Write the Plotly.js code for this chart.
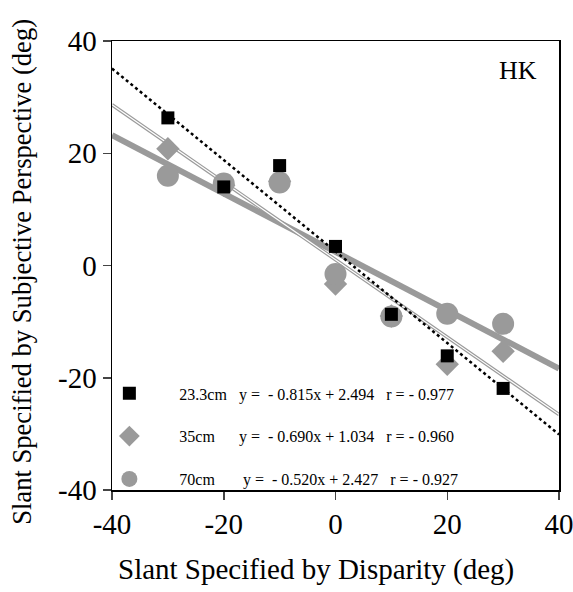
<!DOCTYPE html>
<html>
<head>
<meta charset="utf-8">
<script src="https://cdn.plot.ly/plotly-3.0.1.min.js"></script>
<style>html,body{margin:0;padding:0;background:#fff;}#chart{width:573px;height:592px;}</style>
</head>
<body>
<div id="chart"></div>
<script>
// Data
const disparity = [-30, -20, -10, 0, 10, 20, 30];
const y233 = [26.3, 14.0, 17.8, 3.4, -8.7, -16.1, -21.9];
const y35  = [20.8, 14.3, 15.0, -3.3, -9.0, -17.6, -15.3];
const y70  = [16.0, 14.6, 14.8, -1.5, -9.1, -8.6, -10.4];
const seriesNames = ['23.3cm', '35cm', '70cm'];
const slopes = [-0.815, -0.690, -0.520];
const intercepts = [2.494, 1.034, 2.427];
const rValues = ['- 0.977', '- 0.960', '- 0.927'];
const fitRange = [-40, 40];
const xTicks = [-40, -20, 0, 20, 40];
const yTicks = [-40, -20, 0, 20, 40];
const xTitle = 'Slant Specified by Disparity (deg)';
const yTitle = 'Slant Specified by Subjective Perspective (deg)';
const panelLabel = 'HK';

const NB = '\u00A0';
function pad(n){ return NB.repeat(n); }
function eqText(i){
  const m = Math.abs(slopes[i]).toFixed(3), b = intercepts[i].toFixed(3);
  return 'y =' + pad(2) + '-' + pad(1) + m + 'x + ' + b;
}
const namePads = [3, 6, 7];
const eqPads = [3, 3, 3];
function legendText(i){
  return seriesNames[i] + pad(namePads[i]) + eqText(i) + pad(eqPads[i]) + 'r = ' + rValues[i];
}
function fitLine(i){ return fitRange.map(x => slopes[i]*x + intercepts[i]); }

const gray = '#9a9a9a';
const traces = [
  // regression lines
  {x: fitRange, y: fitLine(2), mode: 'lines', line: {color: gray, width: 6}, showlegend: false, hoverinfo: 'skip'},
  {x: fitRange, y: fitLine(1), mode: 'lines', line: {color: gray, width: 3.5}, showlegend: false, hoverinfo: 'skip'},
  {x: fitRange, y: fitLine(1), mode: 'lines', line: {color: '#ffffff', width: 1.2}, showlegend: false, hoverinfo: 'skip'},
  {x: fitRange, y: fitLine(0), mode: 'lines', line: {color: '#000', width: 2.5, dash: 'dot'}, showlegend: false, hoverinfo: 'skip'},
  // markers
  {x: disparity, y: y35, mode: 'markers', name: legendText(1), legendrank: 2, legendgroup: 'b',
   marker: {symbol: 'diamond', size: 18, color: gray}},
  {x: disparity, y: y70, mode: 'markers', name: legendText(2), legendrank: 3, legendgroup: 'c',
   marker: {symbol: 'circle', size: 22, color: gray}},
  {x: disparity, y: y233, mode: 'markers', name: legendText(0), legendrank: 1, legendgroup: 'a',
   marker: {symbol: 'square', size: 13, color: '#000'}}
];

const serif = 'Liberation Serif, Times New Roman, serif';
const layout = {
  width: 573, height: 592,
  margin: {l: 112, r: 14, t: 41, b: 102},
  paper_bgcolor: '#fff', plot_bgcolor: '#fff',
  font: {family: serif, color: '#000'},
  showlegend: true,
  legend: {x: -0.073, y: 0.253, xanchor: 'left', yanchor: 'top', bgcolor: 'rgba(0,0,0,0)',
           font: {family: serif, size: 16, color: '#000'}, tracegroupgap: 19, itemwidth: 90, traceorder: 'grouped'},
  xaxis: {range: [-40, 40], tickvals: xTicks, ticktext: xTicks.map(String), ticks: 'outside', ticklen: 8, tickwidth: 1.5,
          showline: true, linecolor: '#000', linewidth: 1.5, mirror: true, showgrid: false, zeroline: false,
          ticklabeloverflow: 'allow', tickfont: {family: serif, size: 29}},
  yaxis: {range: [-40, 40], tickvals: yTicks, ticktext: yTicks.map(String), ticks: 'outside', ticklen: 8, tickwidth: 1.5,
          showline: true, linecolor: '#000', linewidth: 1.5, mirror: true, showgrid: false, zeroline: false,
          ticklabeloverflow: 'allow', tickfont: {family: serif, size: 29}},
  annotations: [
    {text: panelLabel, xref: 'paper', yref: 'paper', x: 0.955, y: 0.935, xanchor: 'right', yanchor: 'middle',
     showarrow: false, font: {family: serif, size: 26}},
    {text: xTitle, xref: 'paper', yref: 'paper', x: 0.456, y: -0.178, xanchor: 'center', yanchor: 'middle',
     showarrow: false, font: {family: serif, size: 29}},
    {text: yTitle, xref: 'paper', yref: 'paper', x: -0.2, y: 0.485, xanchor: 'center', yanchor: 'middle',
     textangle: -90, showarrow: false, font: {family: serif, size: 26.6}}
  ]
};
Plotly.newPlot('chart', traces, layout, {displayModeBar: false, staticPlot: true});
</script>
</body>
</html>
